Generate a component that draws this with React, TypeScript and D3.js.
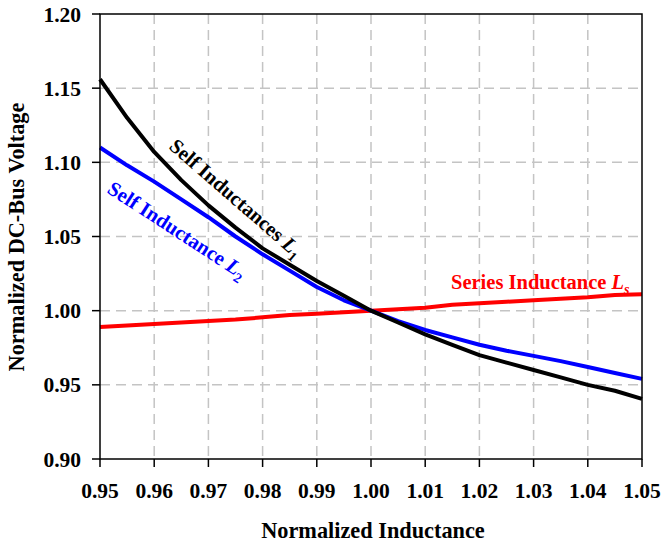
import React from "react";
import * as d3 from "d3";

const xValues = [0.95, 0.955, 0.96, 0.965, 0.97, 0.975, 0.98, 0.985, 0.99, 0.995, 1.0, 1.005, 1.01, 1.015, 1.02, 1.025, 1.03, 1.035, 1.04, 1.045, 1.05];
const selfL1 = [1.156, 1.13, 1.107, 1.088, 1.071, 1.056, 1.042, 1.031, 1.02, 1.01, 1.0, 0.992, 0.984, 0.977, 0.97, 0.965, 0.96, 0.955, 0.95, 0.946, 0.9405];
const selfL2 = [1.11, 1.098, 1.087, 1.075, 1.063, 1.05, 1.038, 1.027, 1.016, 1.007, 1.0, 0.993, 0.987, 0.982, 0.977, 0.973, 0.9695, 0.966, 0.962, 0.958, 0.954];
const seriesLs = [0.989, 0.99, 0.991, 0.992, 0.993, 0.994, 0.9955, 0.997, 0.998, 0.999, 1.0, 1.001, 1.002, 1.004, 1.005, 1.006, 1.007, 1.008, 1.009, 1.0105, 1.011];
const xTicks = [0.95, 0.96, 0.97, 0.98, 0.99, 1.0, 1.01, 1.02, 1.03, 1.04, 1.05];
const yTicks = [0.9, 0.95, 1.0, 1.05, 1.1, 1.15, 1.2];

const W = 665, H = 544;
const left = 100, right = 642, top = 14, bottom = 459;
const FONT = "'Liberation Serif', 'Times New Roman', serif";

export default function App() {
  const x = d3.scaleLinear().domain([0.95, 1.05]).range([left, right]);
  const y = d3.scaleLinear().domain([0.9, 1.2]).range([bottom, top]);
  const line = (vals: number[]) =>
    d3.line<number>().x((_, i) => x(xValues[i])).y((v) => y(v))(vals) || "";

  return (
    <svg width={W} height={H} style={{ position: "absolute", left: 0, top: 0, background: "#fff" }} fontFamily={FONT}>
      <rect width={W} height={H} fill="#fff" />
      {/* grid */}
      {xTicks.slice(1, -1).map((t) => (
        <line key={"gx" + t} x1={x(t)} x2={x(t)} y1={top} y2={bottom} stroke="#c4c4c4" strokeWidth={1.5} strokeDasharray="10,6" />
      ))}
      {yTicks.slice(1, -1).map((t) => (
        <line key={"gy" + t} x1={left} x2={right} y1={y(t)} y2={y(t)} stroke="#c4c4c4" strokeWidth={1.5} strokeDasharray="10,6" />
      ))}
      {/* series */}
      <path d={line(seriesLs)} fill="none" stroke="#ff0000" strokeWidth={4} strokeLinejoin="round" />
      <path d={line(selfL2)} fill="none" stroke="#0000ff" strokeWidth={4} strokeLinejoin="round" />
      <path d={line(selfL1)} fill="none" stroke="#000" strokeWidth={4} strokeLinejoin="round" />
      {/* frame */}
      <rect x={left} y={top} width={right - left} height={bottom - top} fill="none" stroke="#000" strokeWidth={1.5} />
      {/* ticks */}
      {xTicks.map((t) => (
        <g key={"tx" + t}>
          <line x1={x(t)} x2={x(t)} y1={bottom} y2={bottom + 8} stroke="#000" strokeWidth={1.5} />
          <text x={x(t)} y={498} textAnchor="middle" fontSize={21.5} fontWeight="bold">{t.toFixed(2)}</text>
        </g>
      ))}
      {yTicks.map((t) => (
        <g key={"ty" + t}>
          <line x1={left - 8} x2={left} y1={y(t)} y2={y(t)} stroke="#000" strokeWidth={1.5} />
          <text x={81} y={y(t) + 7.5} textAnchor="end" fontSize={21.5} fontWeight="bold">{t.toFixed(2)}</text>
        </g>
      ))}
      {/* axis titles */}
      <text x={373} y={538} textAnchor="middle" fontSize={22.3} fontWeight="bold">Normalized Inductance</text>
      <text transform={`translate(24,237) rotate(-90)`} textAnchor="middle" fontSize={22.3} fontWeight="bold">Normalized DC-Bus Voltage</text>
      {/* annotations */}
      <text transform="translate(168,148) rotate(41)" fontSize={20.5} fontWeight="bold" fill="#000">
        Self Inductances <tspan fontStyle="italic">L</tspan><tspan fontSize={14} dy={5}>1</tspan>
      </text>
      <text transform="translate(106,192) rotate(33)" fontSize={20.5} fontWeight="bold" fill="#0000ff">
        Self Inductance <tspan fontStyle="italic">L</tspan><tspan fontSize={14} dy={5}>2</tspan>
      </text>
      <text x={451} y={289} fontSize={20.5} fontWeight="bold" fill="#ff0000">
        Series Inductance <tspan fontStyle="italic">L</tspan><tspan fontSize={14} fontStyle="italic" dy={5}>s</tspan>
      </text>
    </svg>
  );
}
